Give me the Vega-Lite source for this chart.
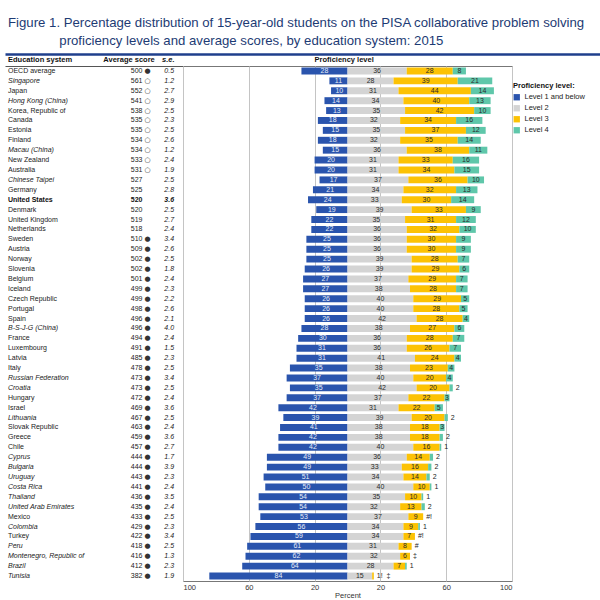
{
"$schema":"https://vega.github.io/schema/vega-lite/v6.json",
"padding":{"left":5,"top":15,"right":0,"bottom":0},
"background":"white",
"title":{"text":["Figure 1. Percentage distribution of 15-year-old students on the PISA collaborative problem solving","\u200b\u00a0\u00a0\u00a0\u00a0\u00a0\u00a0\u00a0\u00a0\u00a0\u00a0\u00a0\u00a0\u00a0\u00a0proficiency levels and average scores, by education system: 2015"],"anchor":"start","dx":3,"fontSize":13.2,"fontWeight":"normal","color":"#1d3b74","font":"Liberation Sans","lineHeight":18,"offset":6,"frame":"group","limit":0},
"datasets":{"pisa":[
{"c":"OECD average","g":"avg","s":500,"sig":"●","se":"0.5","l1":28,"l2":36,"l3":28,"l4":8},
{"c":"Singapore","g":"partner","s":561,"sig":"○","se":"1.2","l1":11,"l2":28,"l3":39,"l4":21},
{"c":"Japan","g":"oecd","s":552,"sig":"○","se":"2.7","l1":10,"l2":31,"l3":44,"l4":14},
{"c":"Hong Kong (China)","g":"partner","s":541,"sig":"○","se":"2.9","l1":14,"l2":34,"l3":40,"l4":13},
{"c":"Korea, Republic of","g":"oecd","s":538,"sig":"○","se":"2.5","l1":13,"l2":35,"l3":42,"l4":10},
{"c":"Canada","g":"oecd","s":535,"sig":"○","se":"2.3","l1":18,"l2":32,"l3":34,"l4":16},
{"c":"Estonia","g":"oecd","s":535,"sig":"○","se":"2.5","l1":15,"l2":35,"l3":37,"l4":12},
{"c":"Finland","g":"oecd","s":534,"sig":"○","se":"2.6","l1":18,"l2":32,"l3":35,"l4":14},
{"c":"Macau (China)","g":"partner","s":534,"sig":"○","se":"1.2","l1":15,"l2":36,"l3":38,"l4":11},
{"c":"New Zealand","g":"oecd","s":533,"sig":"○","se":"2.4","l1":20,"l2":31,"l3":33,"l4":16},
{"c":"Australia","g":"oecd","s":531,"sig":"○","se":"1.9","l1":20,"l2":31,"l3":34,"l4":15},
{"c":"Chinese Taipei","g":"partner","s":527,"sig":"","se":"2.5","l1":17,"l2":37,"l3":36,"l4":10},
{"c":"Germany","g":"oecd","s":525,"sig":"","se":"2.8","l1":21,"l2":34,"l3":32,"l4":13},
{"c":"United States","g":"us","s":520,"sig":"","se":"3.6","l1":24,"l2":33,"l3":30,"l4":14},
{"c":"Denmark","g":"oecd","s":520,"sig":"","se":"2.5","l1":19,"l2":39,"l3":33,"l4":9},
{"c":"United Kingdom","g":"oecd","s":519,"sig":"","se":"2.7","l1":22,"l2":35,"l3":31,"l4":12},
{"c":"Netherlands","g":"oecd","s":518,"sig":"","se":"2.4","l1":22,"l2":36,"l3":32,"l4":10},
{"c":"Sweden","g":"oecd","s":510,"sig":"●","se":"3.4","l1":25,"l2":36,"l3":30,"l4":9},
{"c":"Austria","g":"oecd","s":509,"sig":"●","se":"2.6","l1":25,"l2":36,"l3":30,"l4":9},
{"c":"Norway","g":"oecd","s":502,"sig":"●","se":"2.5","l1":25,"l2":39,"l3":28,"l4":7},
{"c":"Slovenia","g":"oecd","s":502,"sig":"●","se":"1.8","l1":26,"l2":39,"l3":29,"l4":6},
{"c":"Belgium","g":"oecd","s":501,"sig":"●","se":"2.4","l1":27,"l2":37,"l3":29,"l4":7},
{"c":"Iceland","g":"oecd","s":499,"sig":"●","se":"2.3","l1":27,"l2":38,"l3":28,"l4":7},
{"c":"Czech Republic","g":"oecd","s":499,"sig":"●","se":"2.2","l1":26,"l2":40,"l3":29,"l4":5},
{"c":"Portugal","g":"oecd","s":498,"sig":"●","se":"2.6","l1":26,"l2":40,"l3":28,"l4":5},
{"c":"Spain","g":"oecd","s":496,"sig":"●","se":"2.1","l1":26,"l2":42,"l3":28,"l4":4},
{"c":"B-S-J-G (China)","g":"partner","s":496,"sig":"●","se":"4.0","l1":28,"l2":38,"l3":27,"l4":6},
{"c":"France","g":"oecd","s":494,"sig":"●","se":"2.4","l1":30,"l2":36,"l3":28,"l4":7},
{"c":"Luxembourg","g":"oecd","s":491,"sig":"●","se":"1.5","l1":31,"l2":36,"l3":26,"l4":7},
{"c":"Latvia","g":"oecd","s":485,"sig":"●","se":"2.3","l1":31,"l2":41,"l3":24,"l4":4},
{"c":"Italy","g":"oecd","s":478,"sig":"●","se":"2.5","l1":35,"l2":38,"l3":23,"l4":4},
{"c":"Russian Federation","g":"partner","s":473,"sig":"●","se":"3.4","l1":37,"l2":40,"l3":20,"l4":4},
{"c":"Croatia","g":"partner","s":473,"sig":"●","se":"2.5","l1":35,"l2":42,"l3":20,"l4":2},
{"c":"Hungary","g":"oecd","s":472,"sig":"●","se":"2.4","l1":37,"l2":37,"l3":22,"l4":3},
{"c":"Israel","g":"oecd","s":469,"sig":"●","se":"3.6","l1":42,"l2":31,"l3":22,"l4":5},
{"c":"Lithuania","g":"partner","s":467,"sig":"●","se":"2.5","l1":39,"l2":39,"l3":20,"l4":2},
{"c":"Slovak Republic","g":"oecd","s":463,"sig":"●","se":"2.4","l1":41,"l2":38,"l3":18,"l4":3},
{"c":"Greece","g":"oecd","s":459,"sig":"●","se":"3.6","l1":42,"l2":38,"l3":18,"l4":2},
{"c":"Chile","g":"oecd","s":457,"sig":"●","se":"2.7","l1":42,"l2":40,"l3":16,"l4":1},
{"c":"Cyprus","g":"partner","s":444,"sig":"●","se":"1.7","l1":49,"l2":36,"l3":14,"l4":2},
{"c":"Bulgaria","g":"partner","s":444,"sig":"●","se":"3.9","l1":49,"l2":33,"l3":16,"l4":2},
{"c":"Uruguay","g":"partner","s":443,"sig":"●","se":"2.3","l1":51,"l2":34,"l3":14,"l4":2},
{"c":"Costa Rica","g":"partner","s":441,"sig":"●","se":"2.4","l1":50,"l2":40,"l3":10,"l4":1},
{"c":"Thailand","g":"partner","s":436,"sig":"●","se":"3.5","l1":54,"l2":35,"l3":10,"l4":1},
{"c":"United Arab Emirates","g":"partner","s":435,"sig":"●","se":"2.4","l1":54,"l2":32,"l3":13,"l4":2},
{"c":"Mexico","g":"oecd","s":433,"sig":"●","se":"2.5","l1":53,"l2":37,"l3":9,"l4":0,"t4":"#!"},
{"c":"Colombia","g":"partner","s":429,"sig":"●","se":"2.3","l1":56,"l2":34,"l3":9,"l4":1},
{"c":"Turkey","g":"oecd","s":422,"sig":"●","se":"3.4","l1":59,"l2":34,"l3":7,"l4":0,"t4":"#!"},
{"c":"Peru","g":"partner","s":418,"sig":"●","se":"2.5","l1":61,"l2":31,"l3":8,"l4":0,"t4":"#"},
{"c":"Montenegro, Republic of","g":"partner","s":416,"sig":"●","se":"1.3","l1":62,"l2":32,"l3":6,"l4":0,"t4":"‡"},
{"c":"Brazil","g":"partner","s":412,"sig":"●","se":"2.3","l1":64,"l2":28,"l3":7,"l4":1},
{"c":"Tunisia","g":"partner","s":382,"sig":"●","se":"1.9","l1":84,"l2":15,"l3":1,"l4":0,"t3":"1!\u00a0\u00a0‡","t4":""}
]},
"spacing":0,
"bounds":"flush",
"vconcat":[
{
 "width":595,"height":12,
 "data":{"values":[{"h":"Education system"},{"h":"Average score"},{"h":"s.e."},{"h":"Proficiency level"}]},
 "layer":[
  {"transform":[{"filter":"datum.h=='Education system'"}],
   "mark":{"type":"text","align":"left","fontWeight":"bold","fontSize":7.5,"color":"#111"},
   "encoding":{"x":{"datum":3,"type":"quantitative","scale":{"domain":[0,595]},"axis":{"orient":"top","domain":true,"domainColor":"#1f3f8c","domainWidth":2.5,"labels":false,"ticks":false,"grid":false,"title":null}},"text":{"field":"h"}}},
  {"transform":[{"filter":"datum.h=='Average score'"}],
   "mark":{"type":"text","align":"right","fontWeight":"bold","fontSize":7.5,"color":"#111"},
   "encoding":{"x":{"datum":151,"type":"quantitative"},"text":{"field":"h"}}},
  {"transform":[{"filter":"datum.h=='s.e.'"}],
   "mark":{"type":"text","align":"right","fontWeight":"bold","fontStyle":"italic","fontSize":7.5,"color":"#111"},
   "encoding":{"x":{"datum":171,"type":"quantitative"},"text":{"field":"h"}}},
  {"transform":[{"filter":"datum.h=='Proficiency level'"}],
   "mark":{"type":"text","align":"center","fontWeight":"bold","fontSize":7.5,"color":"#111"},
   "encoding":{"x":{"datum":342,"type":"quantitative"},"text":{"field":"h"}}}
 ]
},
{
 "spacing":0,"bounds":"flush",
 "hconcat":[
  {
   "width":178,"height":515,
   "data":{"name":"pisa"},
   "encoding":{"y":{"field":"c","type":"nominal","sort":null,"axis":null,"scale":{"paddingInner":0.3,"paddingOuter":0.15}}},
   "layer":[
    {"mark":{"type":"text","align":"left","fontSize":7,"color":"#222"},
     "encoding":{"x":{"datum":3,"type":"quantitative","scale":{"domain":[0,178]},"axis":{"orient":"top","domain":true,"domainColor":"#555","domainWidth":1,"labels":false,"ticks":false,"grid":false,"title":null}},
      "text":{"condition":{"test":"datum.g=='oecd' || datum.g=='avg'","field":"c"},"value":""}}},
    {"mark":{"type":"text","align":"left","fontSize":7,"fontStyle":"italic","color":"#222"},
     "encoding":{"x":{"datum":3,"type":"quantitative"},
      "text":{"condition":{"test":"datum.g=='partner'","field":"c"},"value":""}}},
    {"mark":{"type":"text","align":"left","fontSize":7,"fontWeight":"bold","color":"#111"},
     "encoding":{"x":{"datum":3,"type":"quantitative"},
      "text":{"condition":{"test":"datum.g=='us'","field":"c"},"value":""}}},
    {"mark":{"type":"text","align":"right","fontSize":7,"color":"#222"},
     "encoding":{"x":{"datum":139,"type":"quantitative"},
      "text":{"condition":{"test":"datum.g!='us'","field":"s","type":"quantitative"},"value":""}}},
    {"mark":{"type":"text","align":"right","fontSize":7,"fontWeight":"bold","color":"#111"},
     "encoding":{"x":{"datum":139,"type":"quantitative"},
      "text":{"condition":{"test":"datum.g=='us'","field":"s","type":"quantitative"},"value":""}}},
    {"mark":{"type":"text","align":"left","fontSize":7,"font":"DejaVu Sans","color":"#333"},
     "encoding":{"x":{"datum":141,"type":"quantitative"},"text":{"field":"sig"}}},
    {"mark":{"type":"text","align":"right","fontSize":7,"fontStyle":"italic","color":"#222"},
     "encoding":{"x":{"datum":171,"type":"quantitative"},
      "text":{"condition":{"test":"datum.g!='us'","field":"se"},"value":""}}},
    {"mark":{"type":"text","align":"right","fontSize":7,"fontStyle":"italic","fontWeight":"bold","color":"#111"},
     "encoding":{"x":{"datum":171,"type":"quantitative"},
      "text":{"condition":{"test":"datum.g=='us'","field":"se"},"value":""}}}
   ]
  },
  {
   "width":329,"height":515,
   "view":{"stroke":"#777","strokeWidth":1},
   "data":{"name":"pisa"},
   "transform":[
    {"fold":["l1","l2","l3","l4"],"as":["k","v"]},
    {"calculate":"datum.k=='l1' ? -datum.v : datum.v","as":"sv"},
    {"calculate":"datum.k=='l1' ? 'Level 1 and below' : datum.k=='l2' ? 'Level 2' : datum.k=='l3' ? 'Level 3' : 'Level 4'","as":"level"},
    {"stack":"sv","groupby":["c"],"sort":[{"field":"k","order":"ascending"}],"as":["x0","x1"],"offset":"zero"},
    {"calculate":"(datum.x0+datum.x1)/2","as":"mid"},
    {"calculate":"datum.k=='l3' && datum.t3 != null ? datum.t3 : (datum.k=='l4' && datum.t4 != null ? datum.t4 : '' + datum.v)","as":"lab"},
    {"calculate":"(datum.k=='l4' || datum.k=='l3') && datum.v <= 2","as":"out"}
   ],
   "encoding":{"y":{"field":"c","type":"nominal","sort":null,"axis":null,"scale":{"paddingInner":0.3,"paddingOuter":0.15}}},
   "layer":[
    {"mark":{"type":"bar"},
     "encoding":{
      "x":{"field":"x0","type":"quantitative","scale":{"domain":[-100,100],"nice":false},
        "axis":{"orient":"bottom","values":[-100,-80,-60,-40,-20,0,20,40,60,80,100],"labelExpr":"abs(datum.value)","domain":false,"ticks":false,"grid":true,"gridColor":"#c4c4c4","gridWidth":1,"labelFontSize":7.5,"labelColor":"#333","labelPadding":2,"title":"Percent","titleFontSize":7.5,"titleFontWeight":"normal","titleColor":"#333","titlePadding":1}},
      "x2":{"field":"x1"},
      "color":{"field":"level","type":"nominal",
        "scale":{"domain":["Level 1 and below","Level 2","Level 3","Level 4"],"range":["#2a54ad","#d4d4d4","#fcc204","#5fc7aa"]},
        "legend":{"title":"Proficiency level:","orient":"none","legendX":508,"legendY":28,"titleFontSize":7.5,"titleFontWeight":"bold","titleColor":"#111","labelFontSize":7.5,"labelColor":"#222","symbolType":"square","symbolSize":40,"symbolStrokeWidth":0,"rowPadding":2,"titlePadding":4}}
     }},
    {"mark":{"type":"text","fontSize":7,"align":"center"},
     "encoding":{
      "x":{"field":"mid","type":"quantitative"},
      "text":{"condition":{"test":"!datum.out","field":"lab"},"value":""},
      "color":{"condition":{"test":"datum.k=='l1'","value":"#e6ecf8"},"value":"#2a2a2a"}
     }},
    {"mark":{"type":"text","fontSize":7,"align":"left","dx":3,"color":"#222"},
     "encoding":{
      "x":{"field":"x1","type":"quantitative"},
      "text":{"condition":{"test":"datum.out","field":"lab"},"value":""}
     }}
   ]
  }
 ]
}
],
"config":{"font":"Liberation Sans","view":{"stroke":null}}
}
